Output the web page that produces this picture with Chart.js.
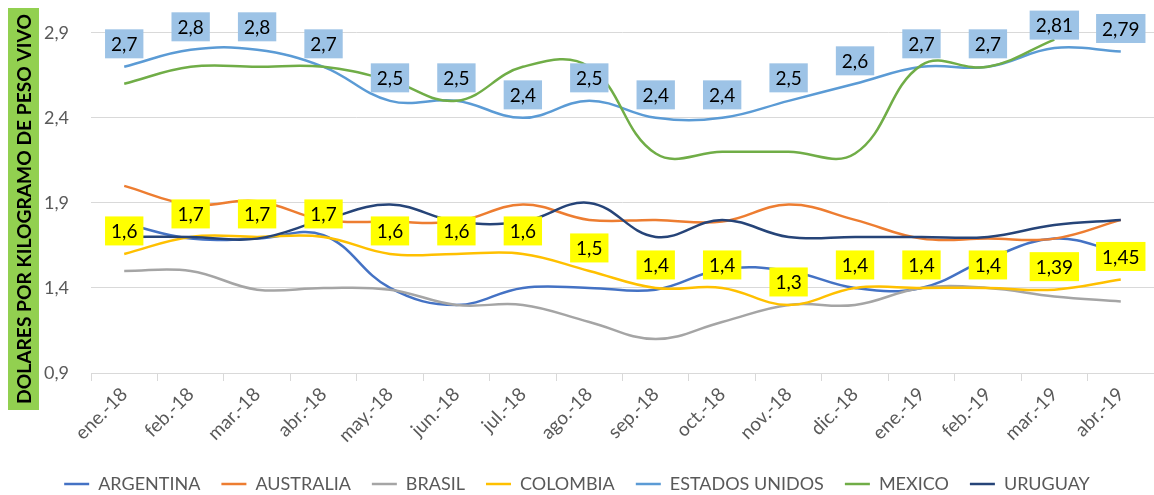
<!DOCTYPE html>
<html>
<head>
<meta charset="utf-8">
<script src="https://cdn.jsdelivr.net/npm/chart.js@4/dist/chart.umd.min.js"></script>
<style>
  html, body { margin: 0; padding: 0; background: #fff; }
  #wrap { width: 1154px; height: 495px; }
</style>
</head>
<body>
<div id="wrap"><canvas id="precios" width="1154" height="495"></canvas></div>
<script>
// meses
const months = ["ene.-18", "feb.-18", "mar.-18", "abr.-18", "may.-18", "jun.-18", "jul.-18", "ago.-18",
  "sep.-18", "oct.-18", "nov.-18", "dic.-18", "ene.-19", "feb.-19", "mar.-19", "abr.-19"];

// dolares por kg de peso vivo
const argentina = [1.78, 1.69, 1.69, 1.71, 1.40, 1.30, 1.40, 1.40, 1.39, 1.51, 1.50, 1.40, 1.40, 1.57, 1.69, 1.61];
const australia = [2.00, 1.89, 1.91, 1.80, 1.79, 1.79, 1.89, 1.80, 1.80, 1.79, 1.89, 1.80, 1.69, 1.69, 1.69, 1.80];
const brasil    = [1.50, 1.50, 1.39, 1.40, 1.39, 1.30, 1.30, 1.20, 1.10, 1.20, 1.30, 1.30, 1.40, 1.40, 1.35, 1.32];
const colombia  = [1.6, 1.7, 1.7, 1.7, 1.6, 1.6, 1.6, 1.5, 1.4, 1.4, 1.3, 1.4, 1.4, 1.4, 1.39, 1.45];
const eeuu      = [2.7, 2.8, 2.8, 2.7, 2.5, 2.5, 2.4, 2.5, 2.4, 2.4, 2.5, 2.6, 2.7, 2.7, 2.81, 2.79];
const mexico    = [2.60, 2.70, 2.70, 2.70, 2.62, 2.50, 2.70, 2.70, 2.19, 2.20, 2.20, 2.19, 2.71, 2.70, 2.86, null];
const uruguay   = [1.70, 1.70, 1.69, 1.80, 1.89, 1.79, 1.79, 1.90, 1.70, 1.80, 1.70, 1.70, 1.70, 1.70, 1.77, 1.80];

const yTicks = [0.9, 1.4, 1.9, 2.4, 2.9];

const FONT = "Lato, 'Open Sans', sans-serif";
const GREY = "#595959";

const fmt = (v) => String(v).replace(".", ",");

function serie(label, data, color, order, boxColor) {
  return {
    label, data, order,
    borderColor: color,
    backgroundColor: color,
    borderWidth: 2.5,
    pointRadius: 0,
    pointHoverRadius: 0,
    tension: 0.4,
    fill: false,
    boxColor: boxColor || null,
  };
}

// etiquetas con recuadro (EEUU y Colombia)
const boxLabels = {
  id: "boxLabels",
  afterDatasetsDraw(chart) {
    const ctx = chart.ctx;
    ctx.save();
    ctx.font = "19px " + FONT;
    ctx.textAlign = "center";
    ctx.textBaseline = "middle";
    chart.data.datasets.forEach((ds, i) => {
      if (!ds.boxColor) return;
      const meta = chart.getDatasetMeta(i);
      meta.data.forEach((pt, j) => {
        const v = ds.data[j];
        if (v == null) return;
        const txt = fmt(v);
        const w = ctx.measureText(txt).width + 12;
        const h = 29;
        const cy = pt.y - 23;
        ctx.fillStyle = ds.boxColor;
        ctx.fillRect(pt.x - w / 2, cy - h / 2, w, h);
        ctx.fillStyle = "#000";
        ctx.fillText(txt, pt.x, cy + 1);
      });
    });
    ctx.restore();
  }
};

// titulo del eje Y sobre fondo verde
const yTitle = {
  id: "yTitle",
  afterDraw(chart) {
    const ctx = chart.ctx;
    const txt = "DOLARES POR KILOGRAMO DE PESO VIVO";
    ctx.save();
    ctx.fillStyle = "#92D050";
    ctx.fillRect(8, 8, 31, 402);
    let size = 18;
    ctx.font = "bold " + size + "px " + FONT;
    const w = ctx.measureText(txt).width;
    size = size * 390 / w;
    ctx.font = "bold " + size + "px " + FONT;
    ctx.translate(24, 209);
    ctx.rotate(-Math.PI / 2);
    ctx.fillStyle = "#000";
    ctx.textAlign = "center";
    ctx.textBaseline = "middle";
    ctx.fillText(txt, 0, 1);
    ctx.restore();
  }
};

new Chart(document.getElementById("precios"), {
  type: "line",
  data: {
    labels: months,
    datasets: [
      serie("ARGENTINA", argentina, "#4472C4", 7),
      serie("AUSTRALIA", australia, "#ED7D31", 6),
      serie("BRASIL", brasil, "#A5A5A5", 5),
      serie("COLOMBIA", colombia, "#FFC000", 4, "#FFFF00"),
      serie("ESTADOS UNIDOS", eeuu, "#5B9BD5", 3, "#9DC3E6"),
      serie("MEXICO", mexico, "#70AD47", 2),
      serie("URUGUAY", uruguay, "#264478", 1),
    ],
  },
  options: {
    responsive: false,
    animation: false,
    events: [],
    layout: { padding: { top: 26, right: 0, bottom: -8, left: 0 } },
    plugins: {
      legend: {
        position: "bottom",
        labels: {
          usePointStyle: true,
          pointStyle: "line",
          pointStyleWidth: 25,
          boxHeight: 18,
          color: GREY,
          padding: 21,
          font: { family: FONT, size: 18 },
          sort: (a, b) => a.datasetIndex - b.datasetIndex,
        },
      },
      tooltip: { enabled: false },
    },
    scales: {
      x: {
        offset: true,
        grid: {
          offset: true,
          drawOnChartArea: false,
          drawTicks: true,
          tickLength: 8,
          color: "#D9D9D9",
        },
        border: { color: "#D9D9D9" },
        ticks: {
          color: GREY,
          font: { family: FONT, size: 19 },
          minRotation: 45,
          maxRotation: 45,
          padding: 2,
        },
        afterFit: (s) => { s.height = 81; },
      },
      y: {
        min: 0.9,
        max: 2.9,
        afterBuildTicks: (s) => { s.ticks = yTicks.map((v) => ({ value: v })); },
        grid: { color: "#D9D9D9", drawTicks: false },
        border: { display: false },
        ticks: {
          color: GREY,
          font: { family: FONT, size: 18 },
          padding: 22,
          callback: (v) => v.toFixed(1).replace(".", ","),
        },
        afterFit: (s) => { s.width = 91; },
      },
    },
  },
  plugins: [boxLabels, yTitle],
});
</script>
</body>
</html>
